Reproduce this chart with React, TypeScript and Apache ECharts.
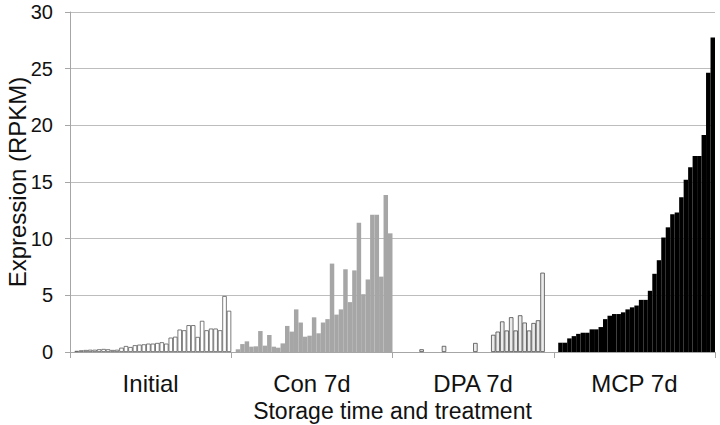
import React, { useEffect, useRef } from "react";
import * as echarts from "echarts";

const groups = ["Initial", "Con 7d", "DPA 7d", "MCP 7d"];
const yTicks = [0, 5, 10, 15, 20, 25, 30];

// 35 genes per group (each group has one empty leading slot)
const initialVals = [0.1, 0.15, 0.18, 0.2, 0.2, 0.24, 0.27, 0.24, 0.18, 0.2, 0.38, 0.53, 0.44, 0.6, 0.65, 0.68, 0.74, 0.74, 0.8, 0.86, 0.74, 1.27, 1.35, 1.98, 1.92, 2.37, 2.37, 1.33, 2.75, 1.92, 2.07, 2.07, 1.92, 4.94, 3.64];
const con7dVals = [0.24, 0.7, 0.94, 0.47, 0.5, 1.85, 0.56, 1.5, 0.47, 0.38, 0.76, 2.3, 1.8, 3.76, 2.6, 1.35, 1.44, 3.06, 1.65, 2.6, 2.9, 7.8, 3.3, 3.76, 7.3, 4.4, 7.2, 11.4, 5.1, 6.4, 12.1, 12.1, 6.65, 13.85, 10.47];
const dpa7dVals = [0, 0, 0, 0, 0, 0.24, 0, 0, 0, 0, 0.54, 0, 0, 0, 0, 0, 0, 0.8, 0, 0, 0, 1.52, 1.8, 2.7, 1.9, 3.07, 1.9, 3.24, 2.6, 1.9, 2.56, 2.8, 7.0, 0, 0];
const mcp7dVals = [0.82, 0.82, 1.2, 1.4, 1.6, 1.7, 1.7, 2.0, 2.0, 2.2, 2.9, 3.2, 3.35, 3.35, 3.5, 3.76, 3.94, 4.1, 4.6, 4.6, 5.4, 6.9, 8.1, 10.1, 11.0, 12.15, 12.3, 13.65, 15.2, 16.3, 17.3, 17.3, 19.15, 24.65, 27.75];

const groupVals = [initialVals, con7dVals, dpa7dVals, mcp7dVals];
const SLOTS = 36;

const FONT = "'Liberation Sans', Arial, sans-serif";

export default function App() {
  const ref = useRef<HTMLDivElement>(null);
  useEffect(() => {
    if (!ref.current) return;
    const chart = echarts.init(ref.current, undefined, { renderer: "svg" });
    const total = SLOTS * groups.length;
    const cats = Array.from({ length: total }, (_, i) => String(i));
    const seriesData = groupVals.map((vals, g) => {
      const arr: (number | null)[] = new Array(total).fill(null);
      vals.forEach((v, k) => {
        arr[g * SLOTS + 1 + k] = v === 0 ? null : v;
      });
      return arr;
    });
    const styles = [
      { color: "#ffffff", borderColor: "#5a5a5a", borderWidth: 0.8 },
      { color: "#a6a6a6", borderWidth: 0 },
      { color: "#ebebeb", borderColor: "#4a4a4a", borderWidth: 0.8 },
      { color: "#000000", borderWidth: 0 },
    ];
    chart.setOption({
      animation: false,
      grid: { left: 70, right: 5, top: 12, bottom: 73, containLabel: false, outerBoundsMode: "none" },
      xAxis: [
        {
          type: "category",
          data: cats,
          show: false,
          boundaryGap: true,
        },
        {
          type: "category",
          data: groups,
          position: "bottom",
          axisLine: { show: true, lineStyle: { color: "#a6a6a6", width: 1 } },
          axisTick: { show: true, length: 6, lineStyle: { color: "#a6a6a6" } },
          axisLabel: { fontSize: 24, color: "#111", fontFamily: FONT, margin: 19 },
          name: "Storage time and treatment",
          nameLocation: "middle",
          nameGap: 47,
          nameTextStyle: { fontSize: 23, color: "#111", fontFamily: FONT },
        },
      ],
      yAxis: {
        type: "value",
        min: 0,
        max: 30,
        interval: 5,
        axisLine: { show: true, lineStyle: { color: "#a6a6a6" } },
        axisTick: { show: true, length: 5, lineStyle: { color: "#a6a6a6" } },
        splitLine: { show: true, lineStyle: { color: "#bdbdbd", width: 1 } },
        axisLabel: {
          fontSize: 20,
          color: "#111",
          fontFamily: FONT,
          margin: 17,
          formatter: (v: number) => (yTicks.includes(v) ? String(v) : ""),
        },
        name: "Expression (RPKM)",
        nameLocation: "middle",
        nameGap: 41,
        nameMoveOverlap: false,
        nameRotate: 90,
        nameTextStyle: { fontSize: 24, color: "#111", fontFamily: FONT },
      },
      series: seriesData.map((d, g) => ({
        type: "bar",
        name: groups[g],
        xAxisIndex: 0,
        data: d,
        barGap: "-100%",
        barCategoryGap: "0%",
        itemStyle: styles[g],
      })),
    });
    return () => chart.dispose();
  }, []);
  return (
    <div
      ref={ref}
      style={{ position: "fixed", left: 0, top: 0, width: 720, height: 425, background: "#fff" }}
    />
  );
}
